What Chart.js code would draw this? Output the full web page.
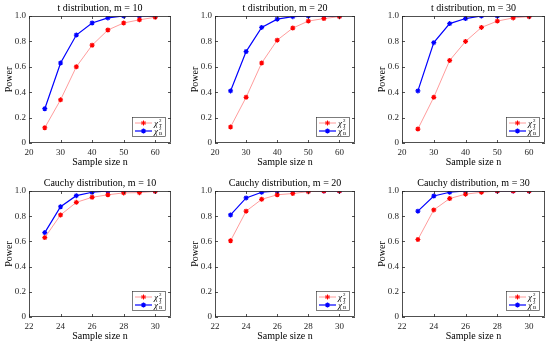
<!DOCTYPE html>
<html>
<head>
<meta charset="utf-8">
<script src="https://cdn.jsdelivr.net/npm/chart.js@4/dist/chart.umd.min.js"></script>
<style>
  body { margin: 0; background: #fff; }
  .cell { position: absolute; }
</style>
</head>
<body>
<div class="cell" style="left:0px;top:0px;width:177px;height:173px"><canvas id="c1"></canvas></div>
<div class="cell" style="left:186px;top:0px;width:175px;height:173px"><canvas id="c2"></canvas></div>
<div class="cell" style="left:373px;top:0px;width:178px;height:173px"><canvas id="c3"></canvas></div>
<div class="cell" style="left:0px;top:175px;width:177px;height:172px"><canvas id="c4"></canvas></div>
<div class="cell" style="left:186px;top:175px;width:175px;height:172px"><canvas id="c5"></canvas></div>
<div class="cell" style="left:373px;top:175px;width:178px;height:172px"><canvas id="c6"></canvas></div>
<script>
'use strict';
// sample sizes
const nT = [25, 30, 35, 40, 45, 50, 55, 60];
const nC = [23, 24, 25, 26, 27, 28, 29, 30];

// t distribution power
const tRed10  = [0.12, 0.34, 0.60, 0.77, 0.89, 0.945, 0.97, 0.99];
const tBlue10 = [0.27, 0.63, 0.85, 0.945, 0.985, 1.0, 1.0, 1.0];
const tRed20  = [0.126, 0.36, 0.63, 0.81, 0.905, 0.96, 0.98, 0.995];
const tBlue20 = [0.41, 0.72, 0.91, 0.975, 0.995, 1.0, 1.0, 1.0];
const tRed30  = [0.11, 0.36, 0.65, 0.80, 0.91, 0.96, 0.985, 0.995];
const tBlue30 = [0.41, 0.79, 0.94, 0.98, 1.0, 1.0, 1.0, 1.0];

// Cauchy distribution power
const cRed10  = [0.63, 0.81, 0.91, 0.95, 0.97, 0.985, 0.987, 0.997];
const cBlue10 = [0.67, 0.875, 0.963, 0.99, 1.0, 1.0, 1.0, 1.0];
const cRed20  = [0.605, 0.84, 0.934, 0.97, 0.98, 0.995, 1.0, 1.0];
const cBlue20 = [0.81, 0.945, 0.99, 1.0, 1.0, 1.0, 1.0, 1.0];
const cRed30  = [0.615, 0.85, 0.94, 0.975, 0.99, 1.0, 1.0, 1.0];
const cBlue30 = [0.84, 0.96, 0.99, 1.0, 1.0, 1.0, 1.0, 1.0];

// ticks
const xTicksT = [20, 30, 40, 50, 60];
const xTicksC = [22, 24, 26, 28, 30];
const yTicks = [0, 0.2, 0.4, 0.6, 0.8, 1];

const titles = [
  't distribution, m = 10', 't distribution, m = 20', 't distribution, m = 30',
  'Cauchy distribution, m = 10', 'Cauchy distribution, m = 20', 'Cauchy distribution, m = 30'
];

const axisColor = '#262626';
const serif = "'Liberation Serif', 'DejaVu Serif', serif";

// рамка, внутренние засечки и легенда как в MATLAB
const framePlugin = {
  id: 'frame',
  afterDraw(chart) {
    const ctx = chart.ctx;
    const a = chart.chartArea;
    const xs = chart.scales.x, ys = chart.scales.y;
    ctx.save();
    ctx.strokeStyle = axisColor;
    ctx.lineWidth = 0.8;
    ctx.strokeRect(a.left + 0.5, a.top + 0.5, a.right - a.left - 1, a.bottom - a.top - 1);
    ctx.beginPath();
    xs.ticks.forEach(t => {
      const px = Math.round(xs.getPixelForValue(t.value)) + 0.5;
      ctx.moveTo(px, a.bottom); ctx.lineTo(px, a.bottom - 3);
      ctx.moveTo(px, a.top); ctx.lineTo(px, a.top + 3);
    });
    ys.ticks.forEach(t => {
      const py = Math.round(ys.getPixelForValue(t.value)) + 0.5;
      ctx.moveTo(a.left, py); ctx.lineTo(a.left + 3, py);
      ctx.moveTo(a.right, py); ctx.lineTo(a.right - 3, py);
    });
    ctx.stroke();

    // legend
    const w = 34, h = 20;
    const lx = a.right - 5 - w, ly = a.bottom - 6 - h;
    ctx.fillStyle = '#fff';
    ctx.fillRect(lx, ly, w, h);
    ctx.strokeStyle = axisColor;
    ctx.lineWidth = 0.6;
    ctx.strokeRect(lx + 0.5, ly + 0.5, w - 1, h - 1);
    const subs = ['T', 'B'];
    chart.data.datasets.forEach((ds, i) => {
      const cy = ly + 6 + i * 8;
      ctx.strokeStyle = ds.borderColor;
      ctx.lineWidth = ds.borderWidth;
      ctx.beginPath();
      ctx.moveTo(lx + 3, cy); ctx.lineTo(lx + 20, cy);
      ctx.stroke();
      ctx.strokeStyle = ds.pointBorderColor;
      Chart.helpers.drawPoint(ctx, {pointStyle: 'star', radius: 2.5, rotation: 0, borderWidth: 1},
        lx + 11.5, cy);
      ctx.fillStyle = '#000';
      ctx.textBaseline = 'middle';
      ctx.font = 'italic 9px ' + serif;
      ctx.fillText('χ', lx + 22, cy + 1);
      ctx.font = '5px ' + serif;
      ctx.fillText('2', lx + 27, cy - 2);
      ctx.fillText(subs[i], lx + 27, cy + 3);
    });
    ctx.restore();
  }
};

function makeChart(id, title, xs, red, blue, xTicks, xMin, xMax) {
  const ctx = document.getElementById(id).getContext('2d');
  return new Chart(ctx, {
    type: 'line',
    data: {
      datasets: [
        {
          label: 'chi2 T',
          data: xs.map((v, i) => ({x: v, y: red[i]})),
          borderColor: '#ff9c9c',
          borderWidth: 1,
          pointStyle: 'star',
          pointRadius: 2.5,
          pointBorderColor: '#ff0000',
          pointBorderWidth: 1.2,
          fill: false,
          tension: 0
        },
        {
          label: 'chi2 B',
          data: xs.map((v, i) => ({x: v, y: blue[i]})),
          borderColor: '#0000ff',
          borderWidth: 1.2,
          pointStyle: 'star',
          pointRadius: 2.5,
          pointBorderColor: '#0000ff',
          pointBorderWidth: 1.2,
          fill: false,
          tension: 0
        }
      ]
    },
    options: {
      responsive: true,
      maintainAspectRatio: false,
      animation: false,
      layout: {padding: {right: 6, top: 0, bottom: 0, left: 0}},
      plugins: {
        legend: {display: false},
        tooltip: {enabled: false},
        title: {
          display: true,
          text: title,
          fullSize: false,
          color: '#000',
          font: {family: serif, size: 10, weight: 'normal', lineHeight: 1},
          padding: {top: 3, bottom: 3}
        }
      },
      scales: {
        x: {
          type: 'linear',
          min: xMin, max: xMax,
          afterBuildTicks: s => { s.ticks = xTicks.map(v => ({value: v})); },
          afterFit: s => { s.height = 30; },
          grid: {display: false, drawTicks: false},
          border: {display: false},
          ticks: {color: '#262626', font: {family: serif, size: 9}, padding: 4, maxRotation: 0},
          title: {display: true, text: 'Sample size n', color: '#000',
                  font: {family: serif, size: 10, lineHeight: 1}, padding: {top: 0, bottom: 6}}
        },
        y: {
          min: 0, max: 1,
          afterBuildTicks: s => { s.ticks = yTicks.map(v => ({value: v})); },
          afterFit: s => { s.width = 29; },
          grid: {display: false, drawTicks: false},
          border: {display: false},
          ticks: {color: '#262626', font: {family: serif, size: 9}, padding: 3},
          title: {display: true, text: 'Power', color: '#000',
                  font: {family: serif, size: 10, lineHeight: 1}, padding: {top: 4, bottom: 0}}
        }
      }
    },
    plugins: [framePlugin]
  });
}

makeChart('c1', titles[0], nT, tRed10, tBlue10, xTicksT, 20, 65);
makeChart('c2', titles[1], nT, tRed20, tBlue20, xTicksT, 20, 65);
makeChart('c3', titles[2], nT, tRed30, tBlue30, xTicksT, 20, 65);
makeChart('c4', titles[3], nC, cRed10, cBlue10, xTicksC, 22, 31);
makeChart('c5', titles[4], nC, cRed20, cBlue20, xTicksC, 22, 31);
makeChart('c6', titles[5], nC, cRed30, cBlue30, xTicksC, 22, 31);
</script>
</body>
</html>
